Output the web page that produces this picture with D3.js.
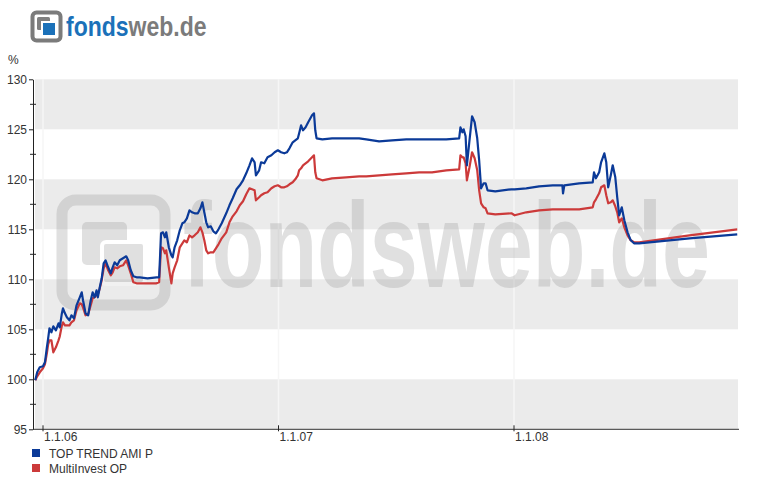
<!DOCTYPE html>
<html>
<head>
<meta charset="utf-8">
<script src="https://cdn.jsdelivr.net/npm/d3@7"></script>
<style>
  body { margin: 0; background: #fff; }
  text { font-family: Arial, "Liberation Sans", sans-serif; }
</style>
</head>
<body>
<svg id="chart"></svg>
<script>
// data
const dates = [
  "2005-12-20","2005-12-23","2005-12-27","2006-01-01","2006-01-04","2006-01-07","2006-01-09","2006-01-11",
  "2006-01-14","2006-01-17","2006-01-21","2006-01-25","2006-01-27","2006-01-30","2006-02-01","2006-02-04",
  "2006-02-07","2006-02-11","2006-02-14","2006-02-18","2006-02-22","2006-02-27","2006-03-02","2006-03-04",
  "2006-03-08","2006-03-12","2006-03-16","2006-03-19","2006-03-22","2006-03-25","2006-03-27","2006-03-30",
  "2006-04-02","2006-04-05","2006-04-08","2006-04-12","2006-04-16","2006-04-19","2006-04-22","2006-04-26",
  "2006-04-30","2006-05-05","2006-05-10","2006-05-13","2006-05-17","2006-05-21","2006-05-26","2006-05-31",
  "2006-06-12","2006-06-26","2006-06-30","2006-07-03","2006-07-06","2006-07-09","2006-07-11","2006-07-15",
  "2006-07-19","2006-07-21","2006-07-24","2006-07-28","2006-08-01","2006-08-05","2006-08-08","2006-08-12",
  "2006-08-16","2006-08-20","2006-08-24","2006-08-29","2006-09-02","2006-09-05","2006-09-08","2006-09-11",
  "2006-09-14","2006-09-18","2006-09-22","2006-09-26","2006-09-30","2006-10-05","2006-10-12","2006-10-17",
  "2006-10-22","2006-10-28","2006-11-02","2006-11-07","2006-11-12","2006-11-17","2006-11-21","2006-11-25",
  "2006-11-27","2006-12-02","2006-12-05","2006-12-10","2006-12-15","2006-12-21","2006-12-26","2006-12-31",
  "2007-01-05","2007-01-10","2007-01-14","2007-01-18","2007-01-23","2007-01-27","2007-01-31","2007-02-02",
  "2007-02-05","2007-02-08","2007-02-12","2007-02-16","2007-02-22","2007-02-25","2007-02-27","2007-03-01",
  "2007-03-10","2007-03-25","2007-04-16","2007-05-06","2007-05-17","2007-06-06","2007-06-26","2007-07-18",
  "2007-08-07","2007-08-27","2007-09-18","2007-10-08","2007-10-10","2007-10-13","2007-10-15","2007-10-18",
  "2007-10-20","2007-10-24","2007-10-28","2007-11-01","2007-11-05","2007-11-08","2007-11-11","2007-11-15",
  "2007-11-18","2007-11-21","2007-12-03","2007-12-28","2008-01-02","2008-01-20","2008-02-09","2008-03-01",
  "2008-03-16","2008-03-17","2008-03-19","2008-04-11","2008-05-02","2008-05-04","2008-05-07","2008-05-12",
  "2008-05-15","2008-05-20","2008-05-23","2008-05-26","2008-05-30","2008-06-02","2008-06-06","2008-06-09",
  "2008-06-12","2008-06-16","2008-06-20","2008-06-25","2008-06-30","2008-07-05","2008-07-13","2008-09-29",
  "2008-12-12"
];

const topTrend = [
  99.9,100.7,101.2,101.3,101.7,103.2,104.1,105.1,
  104.7,105.3,104.9,105.6,105.2,106.5,107.1,106.6,
  106.2,105.9,106.4,106.1,107.4,108.2,108.7,107.9,
  106.6,106.4,107.9,108.7,108.2,108.9,108.2,109.2,
  110.1,111.6,111.9,111.2,110.6,111.2,111.7,111.4,
  111.9,112.1,112.3,111.9,110.9,110.3,110.2,110.2,
  110.1,110.2,110.2,114.6,114.7,114.2,114.7,113.2,
  112.4,112.2,113.2,113.9,114.9,115.6,115.7,116.1,
  116.9,116.7,116.6,116.6,117.1,117.7,116.7,115.7,
  115.2,115.3,114.8,114.6,115.0,115.6,116.6,117.4,
  118.1,119.0,119.4,119.9,120.6,121.4,122.1,121.7,
  120.4,120.9,121.7,121.6,122.2,122.4,122.7,122.9,
  122.7,122.6,122.7,123.1,123.7,123.9,124.1,124.6,
  125.4,124.9,125.2,125.7,126.4,126.6,124.9,124.1,
  124.0,124.1,124.1,124.1,124.0,123.8,123.9,124.0,
  124.0,124.0,124.0,124.1,125.2,124.7,125.0,124.3,
  121.4,123.9,126.3,125.7,124.1,121.9,119.1,119.6,
  119.6,118.9,118.8,119.0,119.0,119.1,119.3,119.4,
  119.4,118.6,119.4,119.6,119.7,120.7,120.1,120.7,
  121.7,122.6,121.7,119.2,120.4,121.4,120.2,118.2,
  116.4,117.2,115.9,114.7,113.9,113.6,113.6,114.1,
  114.5
];

const multiInvest = [
  99.9,100.3,100.7,101.1,101.5,102.6,103.5,103.9,
  103.9,102.7,103.2,103.9,104.3,105.3,105.7,105.4,
  105.4,105.4,105.7,105.9,106.9,107.6,107.5,107.2,
  106.4,106.5,107.4,108.1,108.2,108.4,108.5,109.1,
  109.9,111.1,111.6,110.9,110.4,110.7,111.2,111.1,
  111.3,111.4,111.9,111.4,110.6,109.7,109.6,109.6,
  109.6,109.6,109.7,113.2,113.1,112.6,112.9,111.2,
  109.6,110.6,111.2,111.9,113.2,113.6,113.9,113.7,
  114.4,114.2,114.4,114.7,115.2,114.7,113.9,112.9,
  112.6,112.7,112.7,113.1,113.5,114.1,114.7,115.7,
  116.3,116.8,117.4,117.8,118.5,119.1,119.0,118.9,
  117.9,118.2,118.4,118.6,118.7,119.1,119.3,119.4,
  119.2,119.2,119.3,119.5,119.7,120.0,120.4,120.9,
  121.1,121.4,121.6,121.8,122.2,122.4,120.7,120.1,
  119.9,120.1,120.2,120.3,120.3,120.4,120.5,120.6,
  120.7,120.7,120.9,121.0,122.4,122.2,122.2,121.6,
  119.9,121.2,122.7,122.1,120.9,118.9,117.6,117.2,
  117.1,116.6,116.5,116.6,116.4,116.7,116.9,117.0,
  117.0,117.0,117.0,117.0,117.2,117.7,118.0,118.6,
  119.2,119.4,118.4,117.6,117.7,117.9,117.3,116.7,
  115.7,116.1,115.2,114.4,113.9,113.7,113.7,114.4,
  115.0
];

const seriesNames = ["TOP TREND AMI P", "MultiInvest OP"];
const yTicks = [95, 100, 105, 110, 115, 120, 125, 130];
const yMinorTicks = [97.5, 102.5, 107.5, 112.5, 117.5, 122.5, 127.5];
const xTicks = ["2006-01-01", "2007-01-01", "2008-01-01"];

const width = 770, height = 477;
const blue = "#0b3a98", red = "#cc3a3a";
const parse = d3.timeParse("%Y-%m-%d");

const svg = d3.select("#chart").attr("width", width).attr("height", height);

// plot frame
const plotLeft = 35, plotRight = 738, plotTop = 79.3, plotBottom = 429.3;

const x = d3.scaleTime()
  .domain([parse("2006-01-01"), parse("2008-01-01")])
  .range([43, 514]);

const y = d3.scaleLinear().domain([95, 130]).range([plotBottom, plotTop]);

// logo top left
const logo = svg.append("g");
logo.append("rect").attr("x", 32.5).attr("y", 12.5).attr("width", 28).attr("height", 28)
  .attr("rx", 4).attr("fill", "#fff").attr("stroke", "#7b7b7b").attr("stroke-width", 4);
logo.append("rect").attr("x", 37).attr("y", 17).attr("width", 13).attr("height", 13)
  .attr("rx", 1.5).attr("fill", "#808080");
logo.append("rect").attr("x", 42).attr("y", 22).attr("width", 14).attr("height", 14)
  .attr("fill", "#1b71b9").attr("stroke", "#fff").attr("stroke-width", 2);
const logoText = logo.append("g")
  .attr("transform", "translate(66,35.5) scale(1,1.17)")
  .append("text")
  .attr("font-size", 23).attr("font-weight", "bold");
logoText.append("tspan").attr("fill", "#1b71b9").text("fonds");
logoText.append("tspan").attr("fill", "#7b7b7b").text("web.de");

// grey bands
svg.append("g")
  .selectAll("rect")
  .data(yTicks.filter((d, i) => i % 2 === 0 && d < 130))
  .enter()
  .append("rect")
  .attr("x", plotLeft)
  .attr("width", plotRight - plotLeft)
  .attr("y", (d) => y(d + 5))
  .attr("height", (d) => y(d) - y(d + 5))
  .attr("fill", "#ebebeb");

// faint vertical grid at year ticks
svg.append("g")
  .selectAll("line")
  .data(xTicks)
  .enter()
  .append("line")
  .attr("x1", (d) => x(parse(d)))
  .attr("x2", (d) => x(parse(d)))
  .attr("y1", plotTop)
  .attr("y2", plotBottom)
  .attr("stroke", "#f6f6f6")
  .attr("stroke-width", 1.5);

// watermark
const wm = svg.append("g").attr("opacity", 0.3);
wm.append("rect").attr("x", 62).attr("y", 200).attr("width", 103).attr("height", 105)
  .attr("rx", 14).attr("fill", "none").attr("stroke", "#9a9a9a").attr("stroke-width", 11);
wm.append("rect").attr("x", 82).attr("y", 222).attr("width", 45).attr("height", 43)
  .attr("rx", 5).attr("fill", "#9a9a9a");
wm.append("rect").attr("x", 102).attr("y", 242).attr("width", 43).attr("height", 42)
  .attr("rx", 4).attr("fill", "#9a9a9a").attr("stroke", "#fff").attr("stroke-width", 4);
wm.append("g")
  .attr("transform", "translate(183,287) scale(1,1.37)")
  .append("text")
  .attr("x", 0).attr("y", 0)
  .attr("font-size", 88).attr("font-weight", "bold").attr("fill", "#9a9a9a")
  .attr("textLength", 527).attr("lengthAdjust", "spacingAndGlyphs")
  .text("fondsweb.de");

// lines
const series = [
  { name: seriesNames[1], color: red, values: multiInvest },
  { name: seriesNames[0], color: blue, values: topTrend }
];

const line = d3.line()
  .x((d) => x(d[0]))
  .y((d) => y(d[1]));

svg.append("g")
  .selectAll("path")
  .data(series)
  .enter()
  .append("path")
  .attr("d", (s) => line(dates.map((d, i) => [parse(d), s.values[i]])))
  .attr("fill", "none")
  .attr("stroke", (s) => s.color)
  .attr("stroke-width", 2.2)
  .attr("stroke-linejoin", "round");

// Y axis
const yAxis = svg.append("g")
  .attr("transform", "translate(33,0)")
  .call(d3.axisLeft(y).tickValues(yTicks).tickSize(4).tickSizeOuter(0).tickPadding(2));
yAxis.select(".domain").attr("stroke", "#222");
yAxis.selectAll(".tick line").attr("stroke", "#222");
yAxis.selectAll("text").attr("font-size", 12).attr("fill", "#333")
  .attr("font-family", 'Arial, "Liberation Sans", sans-serif');

yAxis.selectAll(".minor")
  .data(yMinorTicks)
  .enter()
  .append("line")
  .attr("class", "minor")
  .attr("x1", -3)
  .attr("x2", 3)
  .attr("y1", (d) => y(d))
  .attr("y2", (d) => y(d))
  .attr("stroke", "#222");

svg.append("text").attr("x", 8).attr("y", 64).attr("font-size", 12).attr("fill", "#333").text("%");

// X axis
const xAxis = svg.append("g")
  .attr("transform", `translate(0,${plotBottom})`);
xAxis.append("line").attr("x1", 33).attr("x2", 739).attr("stroke", "#333");
xAxis.selectAll(".xt")
  .data(xTicks)
  .enter()
  .append("line")
  .attr("x1", (d) => x(parse(d)))
  .attr("x2", (d) => x(parse(d)))
  .attr("y1", -4)
  .attr("y2", 2)
  .attr("stroke", "#222");
xAxis.selectAll(".xl")
  .data(xTicks)
  .enter()
  .append("text")
  .attr("x", (d) => x(parse(d)) + 1)
  .attr("y", 12)
  .attr("font-size", 12)
  .attr("fill", "#333")
  .text((d) => d3.timeFormat("%-d.%-m.%y")(parse(d)));

// legend
const legend = svg.append("g")
  .selectAll("g")
  .data([{ name: seriesNames[0], color: blue }, { name: seriesNames[1], color: red }])
  .enter()
  .append("g")
  .attr("transform", (d, i) => `translate(32,${449 + i * 15})`);
legend.append("rect").attr("width", 8).attr("height", 8).attr("fill", (d) => d.color);
legend.append("text").attr("x", 17).attr("y", 9).attr("font-size", 12).attr("fill", "#333")
  .text((d) => d.name);
</script>
</body>
</html>
